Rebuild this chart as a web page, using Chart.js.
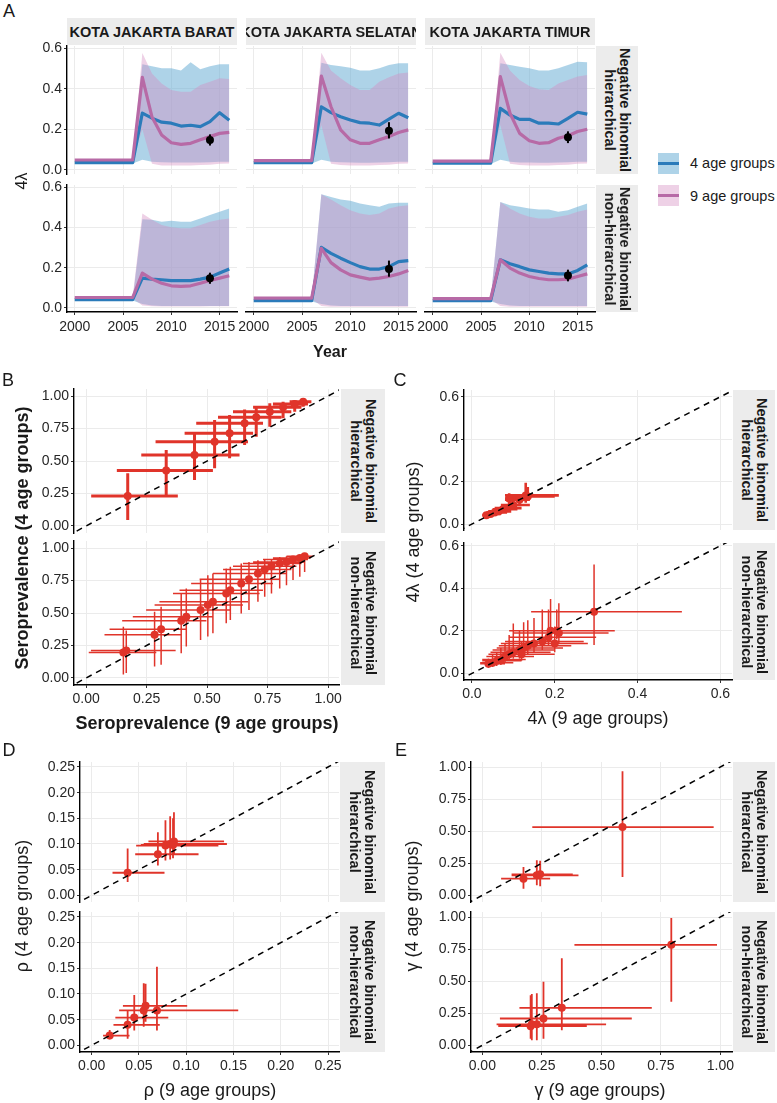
<!DOCTYPE html>
<html>
<head>
<meta charset="utf-8">
<script src="https://cdn.jsdelivr.net/npm/chart.js@4.4.1/dist/chart.umd.min.js"></script>
<style>
  body { margin: 0; background: #fff; }
  #fig { position: relative; width: 777px; height: 1103px; overflow: hidden;
         font-family: 'Liberation Sans', Arial, sans-serif; color: #1a1a1a; }
  canvas { position: absolute; }
  .strip { position: absolute; background: #ececec; display: flex; align-items: center;
           justify-content: center; overflow: hidden; font-weight: bold; font-size: 14.5px;
           white-space: nowrap; z-index: 2; }
  .strip.v span { display: block; transform: rotate(90deg); text-align: center;
                  line-height: 15px; font-size: 14.5px; }
  .lbl { position: absolute; transform: translate(-50%, -50%); white-space: nowrap; z-index: 3; }
  .lbl.rot { transform: translate(-50%, -50%) rotate(-90deg); }
  .sw { position: absolute; width: 21px; height: 21px; }
  .sw i { position: absolute; left: 0; right: 0; top: 9px; height: 3px; }
</style>
</head>
<body>
<div id="fig"></div>
<script>
// ---- data: panel A (force of infection over time) ----
const years = [2000, 2001, 2002, 2003, 2004, 2005, 2006, 2007, 2008, 2009, 2010, 2011, 2012, 2013, 2014, 2015, 2016];
const yearTicks = [2000, 2005, 2010, 2015];
const lambdaTicks = [0, 0.2, 0.4, 0.6];
const districtNames = ['KOTA JAKARTA BARAT', 'KOTA JAKARTA SELATAN', 'KOTA JAKARTA TIMUR'];
const modelNames = [['Negative binomial', 'hierarchical'], ['Negative binomial', 'non-hierarchical']];

// 4 age groups (blue) and 9 age groups (pink): median, lower, upper
const baratHier4   = [.036,.036,.036,.036,.036,.036,.036,.28,.255,.235,.23,.216,.22,.213,.238,.282,.245];
const baratHier4Lo = [.032,.032,.032,.032,.032,.032,.032,.05,.04,.038,.036,.036,.036,.036,.038,.04,.04];
const baratHier4Hi = [.04,.04,.04,.04,.04,.04,.04,.52,.51,.5,.5,.49,.53,.495,.51,.52,.52];
const baratHier9   = [.049,.049,.049,.049,.049,.049,.049,.456,.26,.172,.134,.126,.131,.148,.164,.18,.185];
const baratHier9Lo = [.045,.045,.045,.045,.045,.045,.045,.2,.03,.022,.022,.022,.022,.024,.026,.03,.032];
const baratHier9Hi = [.053,.053,.053,.053,.053,.053,.053,.575,.475,.426,.393,.385,.385,.418,.434,.451,.447];

const selatanHier4   = [.036,.036,.036,.036,.036,.036,.036,.311,.282,.262,.246,.233,.23,.221,.25,.279,.257];
const selatanHier4Lo = [.032,.032,.032,.032,.032,.032,.032,.05,.04,.038,.036,.035,.035,.036,.038,.04,.04];
const selatanHier4Hi = [.04,.04,.04,.04,.04,.04,.04,.528,.516,.51,.503,.49,.49,.5,.516,.525,.525];
const selatanHier9   = [.046,.046,.046,.046,.046,.046,.046,.462,.311,.197,.148,.131,.131,.148,.164,.184,.197];
const selatanHier9Lo = [.042,.042,.042,.042,.042,.042,.042,.22,.03,.024,.022,.022,.022,.024,.026,.03,.032];
const selatanHier9Hi = [.05,.05,.05,.05,.05,.05,.05,.577,.49,.451,.418,.393,.393,.434,.456,.475,.48];

const timurHier4   = [.033,.033,.033,.033,.033,.033,.033,.303,.27,.249,.249,.23,.23,.226,.254,.284,.275];
const timurHier4Lo = [.029,.029,.029,.029,.029,.029,.029,.05,.04,.037,.036,.035,.035,.036,.038,.04,.04];
const timurHier4Hi = [.037,.037,.037,.037,.037,.037,.037,.525,.516,.508,.5,.49,.49,.5,.516,.533,.53];
const timurHier9   = [.043,.043,.043,.043,.043,.043,.043,.459,.279,.18,.144,.131,.134,.156,.168,.189,.2];
const timurHier9Lo = [.039,.039,.039,.039,.039,.039,.039,.22,.03,.024,.022,.022,.022,.024,.026,.03,.032];
const timurHier9Hi = [.047,.047,.047,.047,.047,.047,.047,.577,.49,.443,.413,.397,.393,.426,.443,.46,.467];

const baratNon4   = [.041,.041,.041,.041,.041,.041,.041,.148,.143,.14,.136,.136,.136,.143,.153,.173,.193];
const baratNon4Lo = [.037,.037,.037,.037,.037,.037,.037,.02,.012,.01,.01,.01,.01,.01,.01,.01,.01];
const baratNon4Hi = [.045,.045,.045,.045,.045,.045,.045,.44,.437,.428,.433,.428,.428,.444,.461,.477,.494];
const baratNon9   = [.052,.052,.052,.052,.052,.052,.052,.173,.143,.123,.11,.107,.11,.123,.136,.148,.16];
const baratNon9Lo = [.048,.048,.048,.048,.048,.048,.048,.012,.008,.007,.007,.007,.007,.007,.008,.008,.008];
const baratNon9Hi = [.056,.056,.056,.056,.056,.056,.056,.469,.437,.411,.4,.395,.395,.411,.428,.437,.444];

const selatanNon4   = [.036,.036,.036,.036,.036,.036,.036,.301,.271,.247,.225,.205,.193,.193,.205,.23,.235];
const selatanNon4Lo = [.032,.032,.032,.032,.032,.032,.032,.02,.012,.01,.01,.01,.01,.01,.01,.01,.01];
const selatanNon4Hi = [.04,.04,.04,.04,.04,.04,.04,.564,.551,.538,.532,.518,.51,.502,.518,.522,.522];
const selatanNon9   = [.049,.049,.049,.049,.049,.049,.049,.296,.225,.189,.164,.153,.143,.148,.156,.169,.186];
const selatanNon9Lo = [.045,.045,.045,.045,.045,.045,.045,.01,.006,.006,.006,.006,.006,.006,.006,.006,.006];
const selatanNon9Hi = [.053,.053,.053,.053,.053,.053,.053,.564,.538,.51,.485,.469,.461,.469,.494,.505,.51];

const timurNon4   = [.036,.036,.036,.036,.036,.036,.036,.239,.219,.205,.189,.181,.173,.169,.169,.186,.214];
const timurNon4Lo = [.032,.032,.032,.032,.032,.032,.032,.02,.012,.01,.01,.01,.01,.01,.01,.01,.01];
const timurNon4Hi = [.04,.04,.04,.04,.04,.04,.04,.526,.51,.502,.494,.489,.489,.477,.485,.502,.518];
const timurNon9   = [.046,.046,.046,.046,.046,.046,.046,.239,.198,.173,.156,.146,.14,.14,.143,.156,.169];
const timurNon9Lo = [.042,.042,.042,.042,.042,.042,.042,.01,.006,.006,.006,.006,.006,.006,.006,.006,.006];
const timurNon9Hi = [.05,.05,.05,.05,.05,.05,.05,.526,.494,.469,.453,.444,.444,.453,.461,.477,.489];

// observed estimate (black point) per district
const obsYear = 2014;
const obsMean = [0.147, 0.193, 0.161];
const obsLo   = [0.12, 0.155, 0.132];
const obsHi   = [0.175, 0.235, 0.19];

// ---- data: panels B-E, rows of [x, y, xLow, xHigh, yLow, yHigh] ----
const seroTicks = [0, 0.25, 0.5, 0.75, 1];
const seroHier = [
  [0.172, 0.231, 0.021, 0.379, 0.046, 0.405],
  [0.331, 0.426, 0.127, 0.524, 0.238, 0.585],
  [0.448, 0.546, 0.228, 0.634, 0.354, 0.708],
  [0.531, 0.649, 0.287, 0.669, 0.444, 0.815],
  [0.593, 0.713, 0.407, 0.69, 0.521, 0.854],
  [0.655, 0.79, 0.455, 0.731, 0.623, 0.897],
  [0.703, 0.836, 0.545, 0.807, 0.687, 0.923],
  [0.759, 0.879, 0.607, 0.848, 0.764, 0.944],
  [0.814, 0.913, 0.69, 0.89, 0.828, 0.956],
  [0.862, 0.938, 0.772, 0.917, 0.879, 0.964],
  [0.897, 0.956, 0.841, 0.931, 0.918, 0.974]
];
const seroNon = [
  [0.154, 0.196, 0.011, 0.29, 0.026, 0.395],
  [0.166, 0.212, 0.02, 0.37, 0.038, 0.365],
  [0.283, 0.332, 0.076, 0.393, 0.089, 0.51],
  [0.31, 0.375, 0.097, 0.414, 0.102, 0.548],
  [0.393, 0.441, 0.149, 0.497, 0.191, 0.651],
  [0.414, 0.472, 0.193, 0.524, 0.242, 0.689],
  [0.473, 0.523, 0.248, 0.593, 0.293, 0.753],
  [0.503, 0.561, 0.283, 0.648, 0.319, 0.791],
  [0.524, 0.587, 0.303, 0.669, 0.344, 0.804],
  [0.579, 0.651, 0.359, 0.717, 0.421, 0.842],
  [0.596, 0.676, 0.386, 0.731, 0.446, 0.855],
  [0.641, 0.727, 0.434, 0.772, 0.497, 0.88],
  [0.673, 0.76, 0.469, 0.8, 0.523, 0.893],
  [0.71, 0.804, 0.524, 0.828, 0.587, 0.906],
  [0.738, 0.834, 0.566, 0.848, 0.625, 0.913],
  [0.766, 0.86, 0.607, 0.869, 0.651, 0.918],
  [0.8, 0.88, 0.648, 0.89, 0.689, 0.931],
  [0.828, 0.893, 0.69, 0.903, 0.714, 0.936],
  [0.855, 0.911, 0.731, 0.917, 0.753, 0.941],
  [0.883, 0.923, 0.772, 0.927, 0.778, 0.946],
  [0.903, 0.936, 0.828, 0.938, 0.816, 0.952]
];

const foiHier = [
  [0.035, 0.042, 0.025, 0.05, 0.032, 0.052],
  [0.045, 0.048, 0.03, 0.07, 0.035, 0.06],
  [0.055, 0.055, 0.035, 0.085, 0.04, 0.07],
  [0.065, 0.06, 0.04, 0.095, 0.045, 0.075],
  [0.075, 0.07, 0.05, 0.11, 0.05, 0.085],
  [0.085, 0.075, 0.055, 0.12, 0.055, 0.09],
  [0.1, 0.09, 0.07, 0.14, 0.065, 0.13],
  [0.115, 0.115, 0.08, 0.14, 0.095, 0.135],
  [0.09, 0.12, 0.08, 0.117, 0.074, 0.145],
  [0.13, 0.135, 0.08, 0.21, 0.1, 0.195],
  [0.135, 0.13, 0.1, 0.2, 0.11, 0.175]
];
const foiNon = [
  [0.295, 0.29, 0.143, 0.507, 0.133, 0.512],
  [0.205, 0.2, 0.11, 0.345, 0.16, 0.3],
  [0.21, 0.19, 0.1, 0.33, 0.14, 0.33],
  [0.19, 0.2, 0.09, 0.31, 0.15, 0.35],
  [0.185, 0.17, 0.09, 0.3, 0.13, 0.3],
  [0.2, 0.14, 0.1, 0.28, 0.1, 0.22],
  [0.15, 0.14, 0.07, 0.25, 0.1, 0.26],
  [0.135, 0.13, 0.065, 0.24, 0.09, 0.25],
  [0.125, 0.12, 0.06, 0.22, 0.08, 0.24],
  [0.115, 0.11, 0.05, 0.2, 0.07, 0.2],
  [0.1, 0.1, 0.045, 0.19, 0.07, 0.235],
  [0.09, 0.09, 0.04, 0.17, 0.06, 0.18],
  [0.08, 0.08, 0.035, 0.15, 0.05, 0.14],
  [0.07, 0.065, 0.025, 0.13, 0.04, 0.12],
  [0.06, 0.06, 0.025, 0.12, 0.035, 0.1],
  [0.05, 0.05, 0.02, 0.1, 0.03, 0.09],
  [0.04, 0.045, 0.02, 0.08, 0.025, 0.07],
  [0.12, 0.09, 0.05, 0.2, 0.06, 0.15],
  [0.17, 0.15, 0.08, 0.27, 0.11, 0.3]
];

const rhoTicks = [0, 0.05, 0.1, 0.15, 0.2, 0.25];
const rhoHier = [
  [0.038, 0.044, 0.022, 0.077, 0.026, 0.091],
  [0.07, 0.08, 0.046, 0.113, 0.058, 0.123],
  [0.078, 0.097, 0.047, 0.134, 0.068, 0.146],
  [0.083, 0.1, 0.055, 0.143, 0.07, 0.154],
  [0.087, 0.105, 0.06, 0.14, 0.078, 0.162],
  [0.086, 0.098, 0.052, 0.13, 0.072, 0.15]
];
const rhoNon = [
  [0.019, 0.019, 0.012, 0.04, 0.012, 0.03],
  [0.038, 0.04, 0.023, 0.072, 0.013, 0.068],
  [0.045, 0.054, 0.025, 0.081, 0.029, 0.098],
  [0.055, 0.068, 0.029, 0.1, 0.036, 0.121],
  [0.057, 0.077, 0.033, 0.101, 0.046, 0.12],
  [0.069, 0.068, 0.03, 0.155, 0.029, 0.153]
];

const gammaTicks = [0, 0.25, 0.5, 0.75, 1];
const gammaHier = [
  [0.173, 0.13, 0.079, 0.285, 0.052, 0.22],
  [0.229, 0.156, 0.123, 0.404, 0.078, 0.273],
  [0.243, 0.164, 0.123, 0.38, 0.07, 0.27],
  [0.589, 0.532, 0.21, 0.972, 0.143, 0.966]
];
const gammaNon = [
  [0.203, 0.149, 0.067, 0.439, 0.052, 0.39],
  [0.208, 0.164, 0.06, 0.46, 0.04, 0.4],
  [0.229, 0.164, 0.06, 0.52, 0.039, 0.405],
  [0.257, 0.209, 0.074, 0.628, 0.052, 0.496],
  [0.334, 0.292, 0.156, 0.712, 0.117, 0.679],
  [0.794, 0.783, 0.387, 0.986, 0.339, 0.992]
];

// ---- styling ----
Chart.defaults.font.family = "'Liberation Sans', Arial, sans-serif";
Chart.defaults.font.size = 14;
Chart.defaults.color = '#262626';

const GRID = '#ebebeb';
const BLUE = '#2b7bba', PINK = '#b76aa6';
const BLUE_FILL = 'rgba(107,174,214,0.55)', PINK_FILL = 'rgba(212,140,192,0.4)';
const RED = '#e0342a';
const fig = document.getElementById('fig');

// draws x/y error bars for datasets flagged errorBars, under the points
const errorBarPlugin = {
  id: 'errorBars',
  beforeDatasetDraw(chart, args) {
    const ds = chart.data.datasets[args.index];
    if (!ds.errorBars) return;
    const ctx = chart.ctx, a = chart.chartArea;
    const xs = chart.scales.x, ys = chart.scales.y;
    ctx.save();
    ctx.beginPath();
    ctx.rect(a.left, a.top, a.right - a.left, a.bottom - a.top);
    ctx.clip();
    ctx.strokeStyle = ds.errorColor;
    ctx.lineWidth = ds.errorWidth;
    ctx.beginPath();
    ds.data.forEach(p => {
      const px = xs.getPixelForValue(p.x), py = ys.getPixelForValue(p.y);
      if (p.xMin != null) {
        ctx.moveTo(xs.getPixelForValue(p.xMin), py);
        ctx.lineTo(xs.getPixelForValue(p.xMax), py);
      }
      if (p.yMin != null) {
        ctx.moveTo(px, ys.getPixelForValue(p.yMin));
        ctx.lineTo(px, ys.getPixelForValue(p.yMax));
      }
    });
    ctx.stroke();
    ctx.restore();
  }
};

// one facet = one canvas whose chart area is exactly `box`
function facet(box, o) {
  const L = o.showY ? 50 : 20, B = o.showX ? 30 : 4, T = 4, R = 14;
  const cv = document.createElement('canvas');
  cv.width = box.w + L + R;
  cv.height = box.h + T + B;
  cv.style.left = (box.x - L) + 'px';
  cv.style.top = (box.y - T) + 'px';
  fig.appendChild(cv);

  new Chart(cv, {
    type: 'scatter',
    data: { datasets: o.datasets },
    plugins: [errorBarPlugin],
    options: {
      responsive: false,
      animation: false,
      devicePixelRatio: 1,
      events: [],
      layout: { padding: { left: 0, top: T, right: R, bottom: 0 } },
      plugins: { legend: { display: false }, tooltip: { enabled: false } },
      scales: {
        x: {
          type: 'linear', min: o.xLim[0], max: o.xLim[1],
          afterBuildTicks: s => { s.ticks = o.xTicks.map(v => ({ value: v })); },
          afterFit: s => { s.height = B; s.paddingLeft = 0; s.paddingRight = 0; },
          grid: { color: GRID, lineWidth: 1, drawTicks: o.showX, tickLength: 3, tickColor: '#333' },
          border: { display: o.showX, color: '#000', width: 1.4 },
          ticks: { display: o.showX, padding: o.xPad || 3, maxRotation: 0, autoSkip: false,
                   callback: v => o.xFmt(v) }
        },
        y: {
          type: 'linear', min: o.yLim[0], max: o.yLim[1],
          afterBuildTicks: s => { s.ticks = o.yTicks.map(v => ({ value: v })); },
          afterFit: s => { s.width = L; s.paddingTop = 0; s.paddingBottom = 0; },
          grid: { color: GRID, lineWidth: 1, drawTicks: o.showY, tickLength: 3, tickColor: '#333' },
          border: { display: o.showY, color: '#000', width: 1.4 },
          ticks: { display: o.showY, padding: 2, autoSkip: false, callback: v => o.yFmt(v) }
        }
      }
    }
  });
}

function addDiv(cls, html, css) {
  const d = document.createElement('div');
  d.className = cls;
  d.innerHTML = html;
  Object.assign(d.style, css);
  fig.appendChild(d);
  return d;
}
function label(txt, cx, cy, size, bold, rot) {
  addDiv('lbl' + (rot ? ' rot' : ''), txt, {
    left: cx + 'px', top: cy + 'px', fontSize: size + 'px', fontWeight: bold ? 'bold' : 'normal'
  });
}
function vstrip(x, y, w, h, lines) {
  addDiv('strip v', '<span>' + lines.join('<br>') + '</span>', {
    left: x + 'px', top: y + 'px', width: w + 'px', height: h + 'px'
  });
}

// ---- panel A ----
const pts = vals => years.map((yr, i) => ({ x: yr, y: vals[i] }));
const band = (vals, fill, color) => ({
  type: 'line', data: pts(vals), fill: fill, backgroundColor: color,
  borderColor: 'transparent', borderWidth: 0, pointRadius: 0
});
const trend = (vals, color) => ({
  type: 'line', data: pts(vals), fill: false, borderColor: color, borderWidth: 3.2,
  pointRadius: 0, borderJoinStyle: 'round'
});

const seriesA = [
  [[baratHier4, baratHier4Lo, baratHier4Hi, baratHier9, baratHier9Lo, baratHier9Hi],
   [baratNon4, baratNon4Lo, baratNon4Hi, baratNon9, baratNon9Lo, baratNon9Hi]],
  [[selatanHier4, selatanHier4Lo, selatanHier4Hi, selatanHier9, selatanHier9Lo, selatanHier9Hi],
   [selatanNon4, selatanNon4Lo, selatanNon4Hi, selatanNon9, selatanNon9Lo, selatanNon9Hi]],
  [[timurHier4, timurHier4Lo, timurHier4Hi, timurHier9, timurHier9Lo, timurHier9Hi],
   [timurNon4, timurNon4Lo, timurNon4Hi, timurNon9, timurNon9Lo, timurNon9Hi]]
];
const colX = [67, 246, 425];
const rowsA = [{ y: 46, h: 128 }, { y: 185, h: 127 }];

colX.forEach((cx, c) => {
  rowsA.forEach((r, ri) => {
    const s = seriesA[c][ri];
    facet({ x: cx, y: r.y, w: 170, h: r.h }, {
      xLim: [1999.2, 2016.8], yLim: [-0.02, 0.61],
      xTicks: yearTicks, yTicks: lambdaTicks,
      xFmt: v => String(v), yFmt: v => v.toFixed(1),
      showX: ri === 1, showY: c === 0, xPad: 4,
      datasets: [
        { type: 'scatter', data: [{ x: obsYear, y: obsMean[c], yMin: obsLo[c], yMax: obsHi[c] }],
          pointRadius: 4, backgroundColor: '#000', borderWidth: 0,
          errorBars: true, errorColor: '#000', errorWidth: 2 },
        trend(s[3], PINK),
        trend(s[0], BLUE),
        band(s[5], '+1', PINK_FILL),
        band(s[4], false, 'transparent'),
        band(s[2], '+1', BLUE_FILL),
        band(s[1], false, 'transparent')
      ]
    });
  });
  addDiv('strip', districtNames[c], { left: cx + 'px', top: '18px', width: '170px', height: '27px' });
});
vstrip(596, 46, 42, 128, modelNames[0]);
vstrip(596, 185, 42, 127, modelNames[1]);

// legend
addDiv('sw', '<i style="background:' + BLUE + '"></i>', { left: '658px', top: '153px', background: BLUE_FILL });
addDiv('sw', '<i style="background:' + PINK + '"></i>', { left: '658px', top: '185px', background: PINK_FILL });
addDiv('lbl', '4 age groups', { left: '690px', top: '163px', fontSize: '14.5px', transform: 'translateY(-50%)' });
addDiv('lbl', '9 age groups', { left: '690px', top: '196px', fontSize: '14.5px', transform: 'translateY(-50%)' });

label('A', 9, 11, 18);
label('4\u03bb', 22, 181, 16, false, true);
label('Year', 330, 352, 16, true);

// ---- panels B-E ----
function scatterSets(rows, lim, barWidth) {
  return [
    { type: 'line', data: [{ x: lim[0], y: lim[0] }, { x: lim[1], y: lim[1] }],
      borderColor: '#000', borderWidth: 1.5, borderDash: [6, 5], pointRadius: 0, fill: false },
    { type: 'scatter',
      data: rows.map(r => ({ x: r[0], y: r[1], xMin: r[2], xMax: r[3], yMin: r[4], yMax: r[5] })),
      pointRadius: 4, backgroundColor: RED, borderWidth: 0,
      errorBars: true, errorColor: RED, errorWidth: barWidth }
  ];
}
function pair(o) {
  o.rows.forEach((rows, i) => {
    const b = o.boxes[i];
    facet({ x: o.x, y: b.y, w: o.w, h: b.h }, {
      xLim: o.xLim, yLim: b.yLim, xTicks: o.ticks, yTicks: o.ticks,
      xFmt: o.fmt, yFmt: o.fmt, showX: i === 1, showY: true,
      datasets: scatterSets(rows, [-1, 2], o.barWidths[i])
    });
    vstrip(o.stripX, b.y, o.stripW, b.h, modelNames[i]);
  });
}

pair({ x: 74, w: 265, xLim: [-0.05, 1.045], ticks: seroTicks, fmt: v => v.toFixed(2),
       rows: [seroHier, seroNon], barWidths: [3, 1.5], stripX: 341, stripW: 44,
       boxes: [{ y: 389, h: 144, yLim: [-0.054, 1.054] }, { y: 541, h: 144, yLim: [-0.054, 1.054] }] });
pair({ x: 464, w: 268, xLim: [-0.019, 0.628], ticks: lambdaTicks, fmt: v => v.toFixed(1),
       rows: [foiHier, foiNon], barWidths: [2.6, 1.5], stripX: 733, stripW: 42,
       boxes: [{ y: 390, h: 140, yLim: [-0.028, 0.632] }, { y: 543, h: 137, yLim: [-0.031, 0.613] }] });
pair({ x: 80, w: 259, xLim: [-0.0124, 0.2616], ticks: rhoTicks, fmt: v => v.toFixed(2),
       rows: [rhoHier, rhoNon], barWidths: [1.8, 1.8], stripX: 340, stripW: 45,
       boxes: [{ y: 762, h: 140, yLim: [-0.013, 0.2597] }, { y: 912, h: 140, yLim: [-0.013, 0.2597] }] });
pair({ x: 471, w: 261, xLim: [-0.0475, 1.049], ticks: gammaTicks, fmt: v => v.toFixed(2),
       rows: [gammaHier, gammaNon], barWidths: [1.8, 1.8], stripX: 733, stripW: 42,
       boxes: [{ y: 762, h: 140, yLim: [-0.052, 1.039] }, { y: 912, h: 140, yLim: [-0.052, 1.039] }] });

label('B', 8, 380, 18);
label('Seroprevalence (4 age groups)', 22, 538, 18, true, true);
label('Seroprevalence (9 age groups)', 207, 723, 18, true);

label('C', 400, 380, 18);
label('4\u03bb (4 age groups)', 413, 532, 18, false, true);
label('4\u03bb (9 age groups)', 598, 718, 18);

label('D', 9, 750, 18);
label('\u03c1 (4 age groups)', 22, 906, 18, false, true);
label('\u03c1 (9 age groups)', 210, 1090, 18);

label('E', 401, 750, 18);
label('\u03b3 (4 age groups)', 412, 906, 18, false, true);
label('\u03b3 (9 age groups)', 600, 1090, 18);
</script>
</body>
</html>
